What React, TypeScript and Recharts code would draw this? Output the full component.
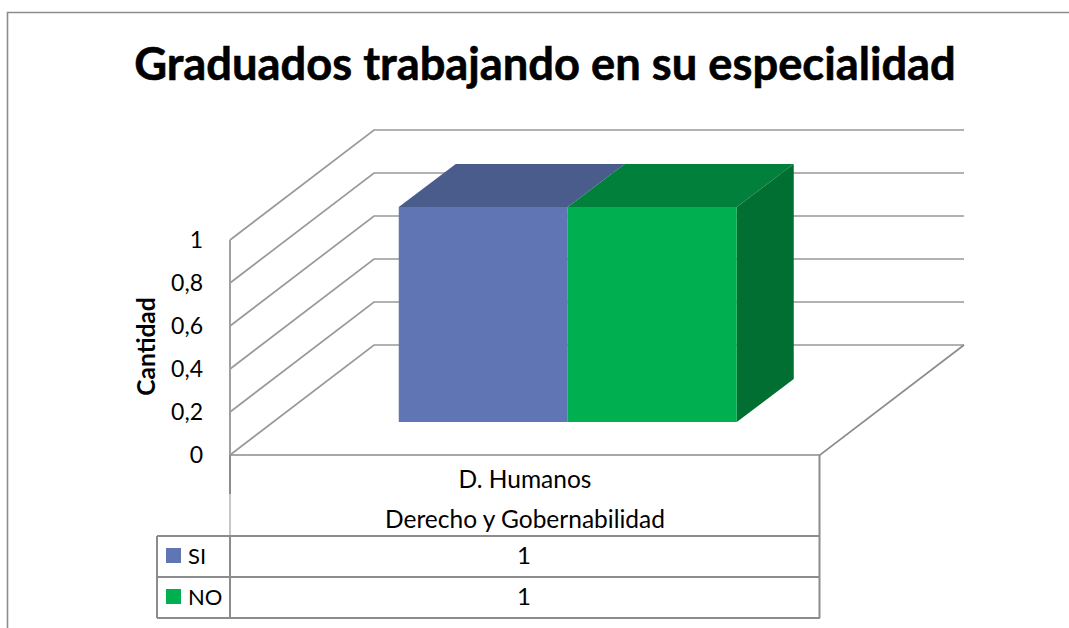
import { BarChart, Bar, XAxis, YAxis, CartesianGrid } from "recharts";

const categories = ["D. Humanos|Derecho y Gobernabilidad"];
const siValues = [1];
const noValues = [1];
const yTicks = [0, 0.2, 0.4, 0.6, 0.8, 1];

const data = categories.map((name, i) => ({
  name,
  SI: siValues[i],
  NO: noValues[i],
}));

const rows = [
  { label: "SI", values: siValues, color: "#6076B4" },
  { label: "NO", values: noValues, color: "#00B050" },
];

const FONT = "Lato, sans-serif";
const LINE = "#8c8c8c";
const GRID = "#999999";

// how far the walls and the bars are pushed back in the fake 3D
const WALL_DX = 144;
const WALL_DY = 110;
const BAR_SHIFT_X = 42.5;
const BAR_SHIFT_Y = 33;
const BAR_DX = 57;
const BAR_DY = 43;

function Box(props: any) {
  const { x, y, width, height, fill, topFill, sideFill, showSide } = props;
  const l = x + BAR_SHIFT_X;
  const r = l + width;
  const t = y - BAR_SHIFT_Y;
  const b = t + height;
  return (
    <g>
      <polygon
        points={`${l},${t} ${r},${t} ${r + BAR_DX},${t - BAR_DY} ${l + BAR_DX},${t - BAR_DY}`}
        fill={topFill}
      />
      {showSide && (
        <polygon
          points={`${r},${t} ${r + BAR_DX},${t - BAR_DY} ${r + BAR_DX},${b - BAR_DY} ${r},${b}`}
          fill={sideFill}
        />
      )}
      <rect x={l} y={t} width={width} height={height} fill={fill} />
    </g>
  );
}

function GridLine(props: any) {
  const { x1, x2, y1, index } = props;
  const bx1 = x1 + WALL_DX;
  const bx2 = x2 + WALL_DX;
  const by = y1 - WALL_DY;
  return (
    <g key={index}>
      <polyline
        points={`${x1},${y1} ${bx1},${by} ${bx2},${by}`}
        fill="none"
        stroke={GRID}
        strokeWidth={1.7}
      />
      {y1 > 450 && (
        <polyline
          points={`${x1},${y1} ${x2},${y1} ${bx2},${by}`}
          fill="none"
          stroke={LINE}
          strokeWidth={1.7}
        />
      )}
    </g>
  );
}

function CategoryTick(props: any) {
  const { x, payload } = props;
  const [top, bottom] = String(payload.value).split("|");
  return (
    <g fontFamily={FONT} fontSize={24.5} fill="#000" textAnchor="middle">
      <text x={x} y={488}>{top}</text>
      <text x={x} y={528}>{bottom}</text>
    </g>
  );
}

function DataTable() {
  return (
    <svg
      width={1069}
      height={628}
      style={{ position: "absolute", left: 0, top: 0, pointerEvents: "none" }}
    >
      {/* outer frame, no right side in the original */}
      <path d="M7.5 628 V12.5 H1069" fill="none" stroke={LINE} strokeWidth={1.6} />
      <path d="M230 455 V494" fill="none" stroke={LINE} strokeWidth={2} />
      <path d="M230 494 V536" fill="none" stroke="#b5b5b5" strokeWidth={1.5} />
      <path d="M230 536 V618 M819.5 455 V618" fill="none" stroke={LINE} strokeWidth={2} />
      <path
        d="M157 536 H820 M157 577 H820 M157 618 H820 M157 536 V618"
        fill="none"
        stroke={LINE}
        strokeWidth={2}
      />
      {rows.map((row, i) => {
        const top = 536 + i * 41;
        return (
          <g key={row.label} fontFamily={FONT} fill="#000">
            <rect x={166} y={top + 12} width={15} height={15} fill={row.color} />
            <text x={188} y={top + 28} fontSize={22}>{row.label}</text>
            <text x={524} y={top + 28} fontSize={24} textAnchor="middle">{row.values[0]}</text>
          </g>
        );
      })}
    </svg>
  );
}

export default function App() {
  return (
    <div style={{ position: "absolute", left: 0, top: 0, width: 1069, height: 628, background: "#fff" }}>
      <div
        style={{
          position: "absolute",
          left: 0,
          width: 1090,
          top: 35,
          textAlign: "center",
          fontFamily: FONT,
          fontWeight: 700,
          fontSize: 45.3,
          color: "#000",
          whiteSpace: "nowrap",
          WebkitTextStroke: "0.6px #000",
        }}
      >
        Graduados trabajando en su especialidad
      </div>
      <BarChart
        width={1069}
        height={628}
        data={data}
        margin={{ top: 240, right: 249, bottom: 0, left: 170 }}
        barCategoryGap="21.4%"
        barGap={0}
      >
        <CartesianGrid vertical={false} horizontal={(p: any) => <GridLine {...p} />} />
        <XAxis
          dataKey="name"
          axisLine={false}
          tickLine={false}
          height={173}
          tick={(p: any) => <CategoryTick {...p} />}
          interval={0}
        />
        <YAxis
          width={60}
          domain={[0, 1]}
          ticks={yTicks}
          interval={0}
          axisLine={{ stroke: "#a0a0a0", strokeWidth: 2 }}
          tickLine={false}
          tickMargin={21}
          tickFormatter={(v: number) => String(v).replace(".", ",")}
          tick={{ fill: "#000", fontFamily: FONT, fontSize: 23 }}
          label={{
            value: "Cantidad",
            angle: -90,
            position: "left",
            offset: 24,
            dy: -1,
            style: { fill: "#000", fontFamily: FONT, fontWeight: 700, fontSize: 24.5, textAnchor: "middle" },
          }}
        />
        <Bar
          dataKey="SI"
          isAnimationActive={false}
          fill="#6076B4"
          shape={(p: any) => <Box {...p} topFill="#4A5C8C" />}
        />
        <Bar
          dataKey="NO"
          isAnimationActive={false}
          fill="#00B050"
          shape={(p: any) => <Box {...p} topFill="#00803A" sideFill="#006F31" showSide />}
        />
      </BarChart>
      <DataTable />
    </div>
  );
}
